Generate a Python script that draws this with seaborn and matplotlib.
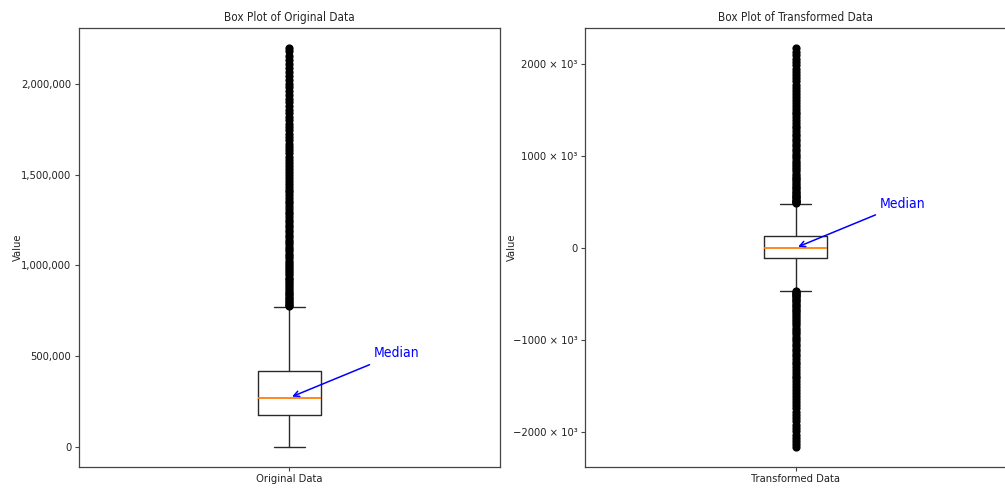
import matplotlib
matplotlib.use("Agg")
import numpy as np
import matplotlib.pyplot as plt
from matplotlib.ticker import FuncFormatter, MultipleLocator
import seaborn as sns

# All values are given in thousands; SCALE converts them back to raw units.
SCALE = 1000

# Original data: box summary and the points beyond the upper whisker
orig_label = "Original Data"
orig_whislo, orig_q1, orig_med, orig_q3, orig_whishi = 0, 176, 271, 418, 771
orig_fliers = [
    776, 781, 789, 797, 806, 815, 822, 833, 841, 850, 862, 871, 880, 892, 901,
    913, 924, 933, 945, 956, 968, 979, 991, 1004, 1016, 1027, 1040, 1052, 1065,
    1078, 1090, 1103, 1117, 1130, 1142, 1156, 1170, 1183, 1197, 1211, 1224,
    1239, 1253, 1268, 1282, 1297, 1311, 1326, 1342, 1357, 1372, 1388, 1403,
    1419, 1435, 1451, 1467, 1483, 1500, 1516, 1533, 1550, 1567, 1584, 1601,
    1619, 1636, 1654, 1672, 1690, 1708, 1727, 1745, 1764, 1783, 1802, 1821,
    1841, 1860, 1880, 1900, 1920, 1941, 1961, 1982, 2003, 2024, 2046, 2068,
    2090, 2112, 2135, 2158, 2181, 2200,
]

# Transformed data: box summary and the points beyond both whiskers
trans_label = "Transformed Data"
trans_whislo, trans_q1, trans_med, trans_q3, trans_whishi = -466, -111, 0, 126, 480
trans_fliers_high = [
    489, 496, 505, 515, 526, 538, 551, 565, 580, 596, 612, 629, 647, 665, 684,
    703, 723, 744, 765, 787, 809, 831, 854, 877, 901, 925, 949, 974, 999, 1025,
    1051, 1077, 1104, 1131, 1158, 1186, 1214, 1243, 1272, 1301, 1330, 1360,
    1390, 1421, 1452, 1483, 1514, 1546, 1578, 1610, 1643, 1676, 1709, 1743,
    1777, 1811, 1846, 1881, 1916, 1952, 1988, 2024, 2061, 2098, 2136, 2176,
]
trans_fliers_low = [
    -475, -483, -492, -502, -513, -525, -538, -552, -567, -583, -600, -617,
    -635, -653, -672, -692, -712, -733, -754, -776, -798, -821, -844, -868,
    -892, -916, -941, -966, -992, -1018, -1044, -1071, -1098, -1126, -1154,
    -1182, -1211, -1240, -1269, -1299, -1329, -1359, -1390, -1421, -1452,
    -1484, -1516, -1548, -1581, -1614, -1647, -1681, -1715, -1749, -1784,
    -1819, -1854, -1890, -1926, -1962, -1999, -2036, -2074, -2105, -2138,
    -2166,
]

sns.set_style("ticks")
plt.rcParams.update({
    "font.family": ["DejaVu Sans"],
    "font.stretch": "condensed",
    "axes.edgecolor": "#444444",
    "axes.linewidth": 0.9,
    "xtick.color": "#444444",
    "ytick.color": "#444444",
    "xtick.labelcolor": "#222222",
    "ytick.labelcolor": "#222222",
})

fig = plt.figure(figsize=(10.05, 4.88), dpi=100)
ax_left = fig.add_axes([0.0786, 0.0436, 0.4189, 0.899])
ax_right = fig.add_axes([0.5821, 0.0436, 0.4189, 0.899])

box_style = dict(
    positions=[1],
    widths=0.15,
    showfliers=False,
    boxprops=dict(color="#2a2a2a", linewidth=1.0),
    whiskerprops=dict(color="#2a2a2a", linewidth=1.0),
    capprops=dict(color="#2a2a2a", linewidth=1.0),
    medianprops=dict(color="#ff7f0e", linewidth=1.3),
)


def draw_box(ax, label, whislo, q1, med, q3, whishi, fliers, title, label_x):
    stats = [dict(label=label, whislo=whislo * SCALE, q1=q1 * SCALE,
                  med=med * SCALE, q3=q3 * SCALE, whishi=whishi * SCALE,
                  fliers=[])]
    ax.bxp(stats, **box_style)
    fl = np.asarray(fliers, dtype=float) * SCALE
    sns.scatterplot(x=np.ones(len(fl)), y=fl, ax=ax, marker="o", s=24,
                    color="black", facecolor="black", edgecolor="black",
                    linewidth=1.0, legend=False, zorder=3)
    ax.set_xlim(0.5, 1.5)
    ax.set_xticks([1])
    ax.set_xticklabels([label])
    ax.set_xlabel("")
    ax.set_ylabel("Value", fontsize=8)
    ax.yaxis.set_label_coords(label_x, 0.5)
    ax.set_title(title, fontsize=8.5, pad=5)
    ax.tick_params(axis="both", labelsize=8, length=3, width=0.8, pad=2.5)
    for side in ("top", "right", "bottom", "left"):
        ax.spines[side].set_visible(True)
    ax.annotate("Median", xy=(1, med * SCALE), xytext=(61, 29),
                textcoords="offset points", color="blue", fontsize=10,
                arrowprops=dict(arrowstyle="->", color="blue", lw=1.1))


draw_box(ax_left, orig_label, orig_whislo, orig_q1, orig_med, orig_q3,
         orig_whishi, orig_fliers, "Box Plot of Original Data", -0.133)
ax_left.yaxis.set_major_locator(MultipleLocator(500 * SCALE))
ax_left.yaxis.set_major_formatter(FuncFormatter(lambda v, _: f"{v:,.0f}"))

draw_box(ax_right, trans_label, trans_whislo, trans_q1, trans_med, trans_q3,
         trans_whishi, trans_fliers_low + trans_fliers_high,
         "Box Plot of Transformed Data", -0.1615)


def times_thousand(v, _):
    if abs(v) < 1e-9:
        return "0"
    return f"{v / SCALE:.0f} \u00d7 10\u00b3".replace("-", "\u2212")


ax_right.yaxis.set_major_locator(MultipleLocator(1000 * SCALE))
ax_right.yaxis.set_major_formatter(FuncFormatter(times_thousand))

fig.savefig("out.png", dpi=100)
